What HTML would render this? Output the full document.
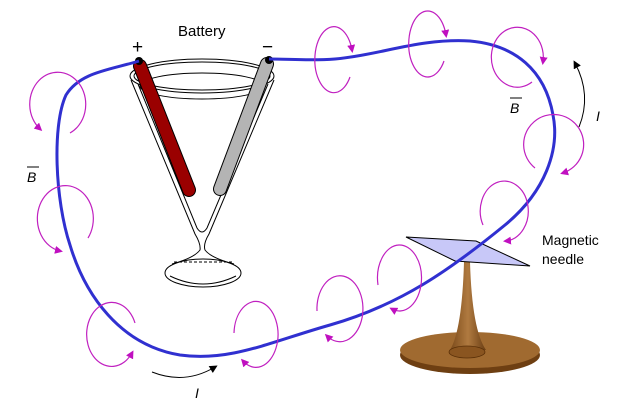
<!DOCTYPE html>
<html><head><style>body{margin:0;background:#fff}svg{display:block}text{font-family:"Liberation Sans",sans-serif}</style></head><body>
<svg width="626" height="412" viewBox="0 0 626 412" xmlns="http://www.w3.org/2000/svg">
<defs>
<marker id="m" markerWidth="8" markerHeight="8" refX="5" refY="4" orient="auto" markerUnits="userSpaceOnUse"><path d="M0,0 L8,4 L0,8 Z" fill="#c010c0"/></marker>
<marker id="k" markerWidth="8" markerHeight="8" refX="5" refY="4" orient="auto" markerUnits="userSpaceOnUse"><path d="M0,0 L8,4 L0,8 Z" fill="#000"/></marker>
<linearGradient id="br" x1="0" x2="1"><stop offset="0" stop-color="#7a4a1a"/><stop offset="0.5" stop-color="#b07a40"/><stop offset="1" stop-color="#6a3e14"/></linearGradient>
</defs>
<g fill="none" stroke="#000" stroke-width="1">
<ellipse cx="202" cy="76" rx="72" ry="17"/>
<ellipse cx="202" cy="76" rx="68" ry="14"/>
<ellipse cx="202" cy="86" rx="62" ry="13"/>
<path d="M131,80 L195,234 Q201,244 200,250 Q194,258 172,264"/>
<path d="M274,80 L209,234 Q203,244 205,250 Q211,258 234,264"/>
<path d="M138,84 L197,228 Q202,236 207,228 L268,84"/>
<ellipse cx="203" cy="273" rx="38" ry="14"/>
<path d="M170,276 Q203,292 236,276"/>
</g>
<path d="M174,262 L232,262" stroke="#000" stroke-dasharray="3,2" fill="none"/>
<line x1="140" y1="66" x2="189" y2="190" stroke="#000" stroke-width="14" stroke-linecap="round"/>
<line x1="140" y1="66" x2="189" y2="190" stroke="#9a0000" stroke-width="12" stroke-linecap="round"/>
<line x1="267" y1="64" x2="220" y2="189" stroke="#000" stroke-width="14" stroke-linecap="round"/>
<line x1="267" y1="64" x2="220" y2="189" stroke="#b4b4b4" stroke-width="12" stroke-linecap="round"/>
<circle cx="139" cy="61" r="4" fill="#000"/><circle cx="269" cy="60" r="4" fill="#000"/>
<ellipse cx="470" cy="355" rx="70" ry="19" fill="#6e3f12"/>
<ellipse cx="470" cy="350" rx="70" ry="18" fill="#a06a30"/>
<path d="M464,262 L470,262 Q472,330 486,350 L450,350 Q462,330 464,262 Z" fill="url(#br)"/>
<ellipse cx="467" cy="352" rx="18" ry="6" fill="#8a5520" stroke="#5a3008" stroke-width="0.8"/>
<path d="M406,237 L476,241 L530,266 L455,261 Z" fill="#c8c8f8" stroke="#000" stroke-width="1"/>
<path d="M139,61 C110,70 80,72 66,95 C52,125 55,200 70,245 C85,295 120,345 180,355 C230,362 270,342 330,325 C400,305 450,270 505,225 C545,192 560,150 553,115 C545,70 515,45 470,41 C420,38 380,55 335,59 C310,61 290,59 269,59" fill="none" stroke="#3030d0" stroke-width="3"/>
<g fill="none" stroke="#c020c0" stroke-width="1.2" marker-end="url(#m)">
<path d="M70,133 A28,32 0 1 0 40,129"/>
<path d="M88,238 A28,33 0 1 0 60,251"/>
<path d="M135,323 A25,32 0 1 0 132,353"/>
<path d="M234,333 A22,33 0 1 1 243,361"/>
<path d="M317,311 A23,33 0 1 1 327,336"/>
<path d="M378,285 A22,33 0 1 1 392,309"/>
<path d="M483,225 A24,30 0 1 1 506,241"/>
<path d="M535,168 A30,30 0 1 1 563,173"/>
<path d="M532,82 A26,30 0 1 1 543,62"/>
<path d="M444,61 A19,33 0 1 1 446,35"/>
<path d="M350,77 A19,33 0 1 1 352,50"/>
</g>
<path d="M152,372 Q185,385 215,367" fill="none" stroke="#000" stroke-width="1" marker-end="url(#k)"/>
<path d="M579,127 Q592,95 575,63" fill="none" stroke="#000" stroke-width="1" marker-end="url(#k)"/>
<text x="178" y="36" font-size="15">Battery</text>
<text x="132" y="53" font-size="19">+</text>
<text x="262" y="53" font-size="19">−</text>
<text x="542" y="245" font-size="14">Magnetic</text>
<text x="542" y="264" font-size="14">needle</text>
<text x="27" y="182" font-size="14" font-style="italic">B</text><line x1="27" y1="167" x2="39" y2="167" stroke="#000"/>
<text x="510" y="113" font-size="14" font-style="italic">B</text><line x1="510" y1="98" x2="522" y2="98" stroke="#000"/>
<text x="195" y="398" font-size="14" font-style="italic">I</text>
<text x="596" y="121" font-size="14" font-style="italic">I</text>
</svg>
</body></html>
